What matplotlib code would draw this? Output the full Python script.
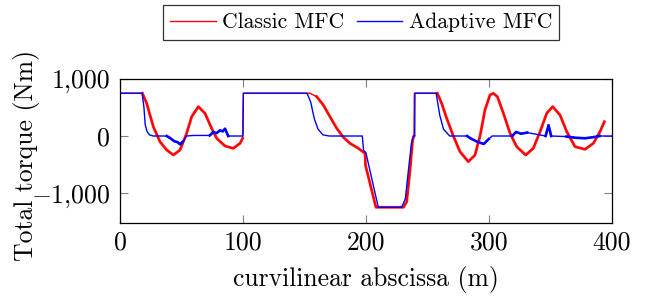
import numpy as np
import matplotlib
matplotlib.use("Agg")
import matplotlib.pyplot as plt
from matplotlib.lines import Line2D

plt.rcParams['font.family'] = ['cmr10', 'DejaVu Serif']
plt.rcParams['mathtext.fontset'] = 'cm'
plt.rcParams['axes.formatter.use_mathtext'] = True

# Classic MFC (red)
classic_x = [0, 0, 18.2, 21.7, 27.1, 32.5, 38.0, 43.4, 48.8, 54.2, 58.3, 63.7, 69.1,
             74.5, 78.6, 85.4, 92.1, 97.6, 99.7, 100.3, 154.5, 159.9, 165.3, 170.7,
             176.2, 181.6, 187.0, 193.8, 199.2, 199.6, 208.1, 230.4, 233.1, 235.8,
             237.9, 239.0, 239.3, 258.0, 261.5, 265.6, 271.0, 276.4, 283.2, 288.6,
             292.7, 296.7, 300.8, 303.5, 306.8, 311.7, 317.1, 322.5, 329.8, 336.0,
             341.5, 346.9, 351.8, 357.7, 363.2, 369.9, 378.0, 384.8, 390.2, 393.8]
classic_y = [0, 750, 750, 573, 164, -99, -246, -333, -246, 47, 339, 515, 398,
             135, -41, -175, -216, -129, -41, 750, 750, 690, 544, 339,
             135, -23, -129, -216, -304, -515, -1250, -1250, -1152, -596,
             -70, 0, 750, 750, 573, 310, 0, -275, -450, -333,
             0, 456, 719, 749, 690, 398, 47, -187, -333, -216,
             76, 398, 515, 368, 76, -187, -234, -129, 76, 251]

# Adaptive MFC (blue)
adaptive_x = [0, 0, 18.0, 19.5, 20.5, 22.0, 24.0, 27.0, 38.0, 41.0, 44.0, 47.0,
              48.8, 51.0, 54.2, 60.0, 73.0, 75.9, 78.5, 81.3, 83.5, 85.4, 88.0,
              100.0, 100.3, 152.0, 155.0, 158.0, 161.0, 165.0, 170.0, 197.0,
              198.0, 200.0, 210.0, 229.0, 232.0, 235.0, 237.0, 238.5, 239.6,
              239.8, 257.0, 260.0, 263.0, 268.0, 282.2, 284.9, 290.3, 295.7,
              299.8, 302.5, 318.8, 322.0, 326.0, 331.0, 346.0, 348.4, 350.5,
              363.0, 370.0, 378.0, 385.0, 390.0, 400.0]
adaptive_y = [0, 750, 750, 500, 200, 80, 20, 0, 0, -40, -90, -110,
              -146, -100, 0, 10, 10, 70, 50, 99, 80, 128, 0,
              0, 750, 750, 600, 300, 120, 20, 0, 0,
              -246, -300, -1250, -1250, -1100, -500, -120, 0, 0,
              750, 750, 360, 120, 0, 0, -41, -99, -140,
              -53, 0, 0, 70, 40, 60, 0, 190, 0,
              -10, -30, -40, -20, 0, 0]

# noisy stretches (drawn thicker)
classic_noisy = [(18, 100), (155, 239), (258, 394)]
adaptive_noisy = [(38, 54), (73, 88), (282, 302), (318, 331), (346, 351), (363, 390)]

yticks = [-1000, 0, 1000]
ytick_labels = [r'$-$1,000', '0', '1,000']
xticks = [0, 100, 200, 300, 400]

fig = plt.figure(figsize=(6.52, 2.98), dpi=100)
ax = fig.add_axes([0.184, 0.2527, 0.7547, 0.4823])

cx = np.array(classic_x)
cy = np.array(classic_y)
ax_ = np.array(adaptive_x)
ay = np.array(adaptive_y)

ax.plot(cx, cy, color='red', linewidth=1.0)
for a, b in classic_noisy:
    m = (cx >= a) & (cx <= b)
    ax.plot(cx[m], cy[m], color='red', linewidth=2.0, alpha=0.9,
            solid_joinstyle='round')
ax.plot(ax_, ay, color='blue', linewidth=1.0)
for a, b in adaptive_noisy:
    m = (ax_ >= a) & (ax_ <= b)
    ax.plot(ax_[m], ay[m], color='blue', linewidth=1.9)

ax.set_xlim(0, 400)
ax.set_ylim(-1520, 1000)
ax.set_xticks(xticks)
ax.set_xticklabels([str(t) for t in xticks])
ax.set_yticks(yticks)
ax.set_yticklabels(ytick_labels)
ax.tick_params(direction='in', length=5.5, width=0.8, color='#808080',
               top=True, right=True, labelsize=18.5)
ax.tick_params(axis='x', pad=6)
ax.tick_params(axis='y', pad=7)
for s in ax.spines.values():
    s.set_linewidth(0.9)

ax.set_xlabel('curvilinear abscissa (m)', fontsize=18.5, labelpad=8)
ax.set_ylabel('Total torque (Nm)', fontsize=18.5)
ax.yaxis.set_label_coords(-0.162, 0.47)

handles = [Line2D([], [], color='red', linewidth=1.0),
           Line2D([], [], color='blue', linewidth=1.0)]
leg = fig.legend(handles, ['Classic MFC', 'Adaptive MFC'], ncol=2,
                 loc='center', bbox_to_anchor=(0.554, 0.9245), fontsize=15.6,
                 frameon=True, fancybox=False, edgecolor='black',
                 handlelength=2.1, handletextpad=0.3, columnspacing=0.55,
                 borderpad=0.35, borderaxespad=0)
leg.get_frame().set_linewidth(0.9)

fig.savefig('out.png', dpi=100)
